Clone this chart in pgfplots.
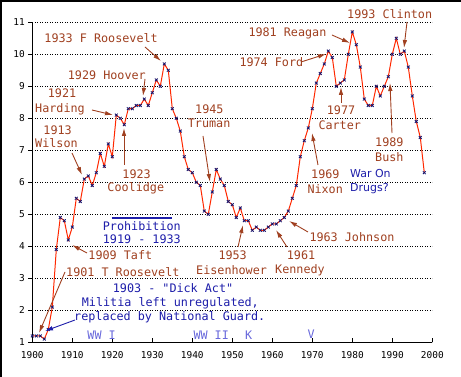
\documentclass[border=0pt]{standalone}
\usepackage{pgfplots}
\pgfplotsset{compat=1.18}
\usepackage{pgfplotstable}
\usepackage{fontspec}
\newfontfamily\mono{DejaVu Sans Mono}
\newfontfamily\sansf{DejaVu Sans}
\usetikzlibrary{arrows.meta}
\definecolor{brn}{RGB}{160,64,32}
\definecolor{dblue}{RGB}{30,30,170}
\definecolor{lblue}{RGB}{105,105,220}
\definecolor{lred}{RGB}{255,40,0}
\definecolor{mk}{RGB}{20,20,110}
\pgfplotstableread{
year val
1900 1.2
1901 1.2
1902 1.2
1903 1.1
1904 1.4
1905 2.1
1906 3.9
1907 4.9
1908 4.8
1909 4.2
1910 4.6
1911 5.5
1912 5.4
1913 6.1
1914 6.2
1915 5.9
1916 6.3
1917 6.9
1918 6.5
1919 7.2
1920 6.8
1921 8.1
1922 8.0
1923 7.8
1924 8.3
1925 8.3
1926 8.4
1927 8.4
1928 8.6
1929 8.4
1930 8.8
1931 9.2
1932 9.0
1933 9.7
1934 9.5
1935 8.3
1936 8.0
1937 7.6
1938 6.8
1939 6.4
1940 6.3
1941 6.0
1942 5.9
1943 5.1
1944 5.0
1945 5.7
1946 6.4
1947 6.1
1948 5.9
1949 5.4
1950 5.3
1951 4.9
1952 5.2
1953 4.8
1954 4.8
1955 4.5
1956 4.6
1957 4.5
1958 4.5
1959 4.6
1960 4.7
1961 4.7
1962 4.8
1963 4.9
1964 5.1
1965 5.5
1966 5.9
1967 6.8
1968 7.3
1969 7.7
1970 8.3
1971 9.1
1972 9.4
1973 9.7
1974 10.1
1975 9.9
1976 9.0
1977 9.1
1978 9.2
1979 10.0
1980 10.7
1981 10.3
1982 9.6
1983 8.6
1984 8.4
1985 8.4
1986 9.0
1987 8.7
1988 9.0
1989 9.3
1990 10.0
1991 10.5
1992 10.0
1993 10.1
1994 9.6
1995 8.7
1996 7.9
1997 7.4
1998 6.3
}\rate
\begin{document}
\begin{tikzpicture}
\path[use as bounding box] (0,0) rectangle (461bp,377bp);
\fill[white] (0,0) rectangle (461bp,377bp);
\draw[black, line width=1.7bp] (0.85bp,0) -- (0.85bp,376.15bp) -- (461bp,376.15bp);
\begin{axis}[at={(32.3bp,34.7bp)}, anchor=south west, scale only axis,
  width=400bp, height=320bp,
  xmin=1900, xmax=2000, ymin=1, ymax=11,
  axis x line=bottom, axis y line=left,
  axis line style={-, line width=1bp, black},
  xtick={1900,1910,...,2000}, ytick={1,...,11},
  tick align=inside, major tick length=4bp,
  tick style={line width=1bp, black},
  ytick style={xshift=-4bp},
  ymajorgrids,
  major grid style={black, line width=0.8bp, dash pattern=on 1bp off 1.5bp},
  /pgf/number format/assume math mode=true,
  /pgf/number format/1000 sep={},
  ticklabel style={font=\fontsize{9.5}{10}\mono, inner sep=0pt},
  xticklabel style={anchor=north, yshift=-8.7bp},
  yticklabel style={anchor=east, xshift=-7.3bp},
  clip=false]
\addplot[lred, line width=1bp, mark=x, mark size=2bp, mark options={draw=mk, line width=0.8bp}] table[x=year,y=val] {\rate};
\addplot[dblue, line width=2.5bp, no marks] coordinates {(1919.85,4.89) (1934.85,4.89)};
\end{axis}
\begin{scope}[x=1bp, y=-1bp, yshift=377bp]
\tikzset{br/.style={text=brn, font=\fontsize{11.8}{12}\mono, inner sep=0pt, anchor=base west},
         bl/.style={text=dblue, font=\fontsize{11.8}{12}\mono, inner sep=0pt, anchor=base west},
         lb/.style={text=lblue, font=\fontsize{11.8}{12}\mono, inner sep=0pt, anchor=base west},
         ar/.style={brn, line width=0.9bp, -{Latex[length=8bp,width=4.5bp]}}}
\node[br] at (347,18.3) {1993 Clinton};
\node[br] at (248.3,37) {1981 Reagan};
\node[br] at (239.3,66.7) {1974 Ford};
\node[br] at (44.3,43) {1933 F Roosevelt};
\node[br] at (67.7,80) {1929 Hoover};
\node[br] at (47.7,98) {1921};
\node[br] at (35,113) {Harding};
\node[br] at (43.3,135) {1913};
\node[br] at (35,148) {Wilson};
\node[br] at (122.3,179) {1923};
\node[br] at (107.3,192) {Coolidge};
\node[br] at (195,114) {1945};
\node[br] at (187.7,128) {Truman};
\node[br] at (326.7,115) {1977};
\node[br] at (318.3,130) {Carter};
\node[br] at (375,146.5) {1989};
\node[br] at (375,161.5) {Bush};
\node[br] at (311,179) {1969};
\node[br] at (307.3,194) {Nixon};
\node[br] at (309.3,241.5) {1963 Johnson};
\node[br] at (286.7,260) {1961};
\node[br] at (275,274) {Kennedy};
\node[br] at (218.3,260) {1953};
\node[br] at (196,275) {Eisenhower};
\node[br] at (88.3,260) {1909 Taft};
\node[br] at (66,276.5) {1901 T Roosevelt};
\node[text=dblue, font=\fontsize{11}{12}\sansf, inner sep=0pt, anchor=base west] at (350,178) {War On};
\node[text=dblue, font=\fontsize{11}{12}\sansf, inner sep=0pt, anchor=base west] at (350,192) {Drugs?};
\node[bl] at (102.7,231) {Prohibition};
\node[bl] at (102.7,244) {1919 - 1933};
\node[bl] at (112.7,292.5) {1903 - "Dick Act"};
\node[bl] at (81.7,306.5) {Militia left unregulated,};
\node[bl] at (74,320.5) {replaced by National Guard.};
\node[lb] at (87.3,340) {WW I};
\node[lb] at (193.3,340) {WW II};
\node[lb] at (245,340) {K};
\node[lb] at (307.3,339) {V};
\draw[ar] (407,22) -- (404,48);
\draw[ar] (332,35) -- (350,43);
\draw[ar] (301,62) -- (326,54);
\draw[ar] (145,47) -- (161,61);
\draw[ar] (145,79) -- (143,96);
\draw[ar] (92,110) -- (113,115);
\draw[ar] (72,153) -- (82,175);
\draw[ar] (124,165) -- (124,128);
\draw[ar] (203,136) -- (210,182);
\draw[ar] (341,103) -- (341,87);
\draw[ar] (392,133) -- (390,83);
\draw[ar] (318,165) -- (312,133);
\draw[ar] (308,232) -- (289,221);
\draw[ar] (287,247) -- (276,230);
\draw[ar] (238,247) -- (243,225);
\draw[ar] (87,253) -- (72,245);
\draw[ar] (65,272) -- (39,333);
\draw[dblue, line width=0.9bp, -{Latex[length=8bp,width=4.5bp]}] (75,320) -- (45,331);
\end{scope}
\end{tikzpicture}
\end{document}
